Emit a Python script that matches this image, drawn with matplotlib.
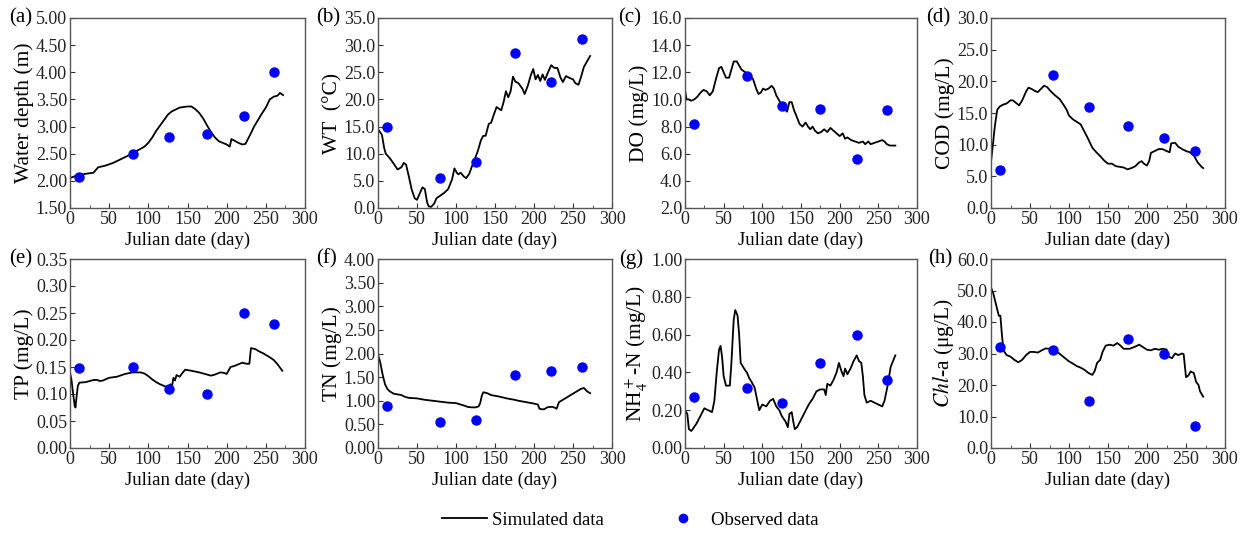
import matplotlib
matplotlib.use('Agg')
import matplotlib.pyplot as plt
from matplotlib.lines import Line2D
from matplotlib.ticker import MultipleLocator, FormatStrFormatter

plt.rcParams['font.family'] = ['Liberation Serif', 'DejaVu Serif']
plt.rcParams['mathtext.fontset'] = 'stix'
plt.rcParams['font.size'] = 13.5

# observation days (shared by all panels)
obs_day = [12, 80, 126, 175, 222, 261]

# (a) water depth
a_day = [0, 5, 10, 20, 30, 33, 36, 45, 55, 65, 75, 85, 95, 100, 105, 110, 115, 120, 125, 130,
         140, 150, 155, 160, 165, 170, 175, 180, 185, 190, 195, 200, 204, 206, 210, 215, 220,
         224, 230, 235, 240, 245, 250, 255, 260, 265, 268, 272]
a_sim = [2.05, 2.08, 2.10, 2.13, 2.15, 2.20, 2.25, 2.28, 2.33, 2.40, 2.47, 2.55, 2.63, 2.70,
         2.80, 2.92, 3.02, 3.12, 3.22, 3.28, 3.35, 3.37, 3.37, 3.32, 3.25, 3.15, 3.02, 2.90,
         2.80, 2.73, 2.70, 2.67, 2.63, 2.77, 2.74, 2.70, 2.67, 2.68, 2.85, 3.00, 3.12, 3.24,
         3.35, 3.50, 3.55, 3.57, 3.62, 3.58]
a_obs = [2.08, 2.50, 2.80, 2.87, 3.20, 4.00]

# (b) water temperature
b_day = [0, 5, 8, 10, 15, 20, 25, 30, 33, 36, 40, 43, 47, 50, 53, 57, 60, 63, 65, 68, 72, 75,
         80, 85, 90, 95, 98, 101, 103, 106, 110, 113, 117, 120, 124, 128, 132, 135, 138, 142,
         145, 148, 152, 155, 158, 161, 164, 167, 170, 173, 176, 180, 185, 188, 192, 196, 199,
         202, 205, 208, 211, 214, 218, 222, 226, 230, 234, 237, 241, 245, 250, 253, 257, 260,
         264, 268, 272]
b_sim = [14.5, 13.5, 11.0, 10.0, 9.2, 8.2, 7.1, 7.5, 8.3, 8.0, 5.5, 3.5, 1.8, 1.5, 2.5, 3.8,
         3.5, 1.0, 0.3, 0.2, 0.8, 1.8, 2.3, 2.8, 3.5, 5.3, 7.3, 6.5, 6.2, 6.5, 5.8, 5.5, 6.3,
         7.5, 9.0, 10.5, 12.5, 13.3, 13.3, 15.5, 15.7, 17.0, 18.6, 18.3, 18.0, 19.5, 21.5, 20.4,
         21.5, 24.2, 23.3, 23.0, 22.0, 21.0, 22.5, 24.5, 25.6, 23.7, 24.5, 23.4, 24.6, 23.6,
         25.0, 26.3, 25.8, 25.8, 24.0, 23.2, 24.3, 24.0, 23.7, 23.0, 22.7, 24.0, 26.0, 27.0, 28.0]
b_obs = [15.0, 5.6, 8.4, 28.5, 23.2, 31.2]

# (c) dissolved oxygen
c_day = [0, 2, 5, 8, 12, 16, 20, 24, 28, 32, 36, 40, 44, 47, 50, 53, 57, 60, 63, 67, 70, 73,
         78, 83, 88, 92, 95, 98, 101, 104, 108, 112, 115, 118, 121, 125, 128, 132, 135, 138,
         141, 144, 148, 152, 156, 159, 162, 165, 168, 172, 176, 180, 184, 188, 192, 196, 200,
         204, 207, 210, 215, 220, 225, 230, 233, 237, 240, 245, 250, 255, 258, 261, 265, 272]
c_sim = [10.7, 10.0, 10.0, 9.9, 10.0, 10.2, 10.5, 10.7, 10.6, 10.3, 10.6, 11.5, 12.3, 12.4,
         12.0, 11.6, 11.6, 12.2, 12.8, 12.8, 12.5, 12.2, 12.0, 11.8, 11.5, 10.8, 10.4, 10.5,
         10.8, 10.7, 10.8, 11.0, 10.8, 10.3, 10.0, 9.6, 9.3, 9.1, 9.8, 9.8, 9.2, 8.8, 8.2, 8.0,
         8.3, 8.0, 7.8, 8.0, 7.7, 7.5, 7.6, 7.8, 7.6, 7.9, 7.7, 7.5, 7.3, 7.5, 7.1, 7.2, 7.0,
         6.9, 6.8, 6.9, 6.7, 6.9, 6.7, 6.8, 6.9, 7.0, 6.9, 6.7, 6.6, 6.6]
c_obs = [8.2, 11.7, 9.5, 9.3, 5.6, 9.2]

# (d) COD
d_day = [0, 2, 5, 8, 11, 15, 20, 25, 28, 32, 36, 40, 45, 48, 52, 56, 60, 64, 68, 72, 76, 82,
         88, 93, 97, 100, 105, 110, 115, 120, 125, 130, 135, 140, 145, 150, 155, 160, 165, 170,
         175, 180, 185, 190, 193, 196, 200, 203, 205, 210, 215, 220, 225, 229, 231, 236, 240,
         245, 250, 255, 260, 265, 270, 272]
d_sim = [7.3, 9.5, 13.0, 15.5, 16.0, 16.3, 16.5, 17.0, 17.0, 16.6, 16.2, 17.0, 18.4, 19.0,
         18.8, 18.5, 18.3, 18.8, 19.3, 19.1, 18.5, 17.8, 17.2, 16.3, 15.5, 14.6, 14.0, 13.6,
         13.2, 12.0, 10.8, 9.5, 8.8, 8.2, 7.5, 7.0, 7.0, 6.6, 6.5, 6.4, 6.1, 6.3, 6.6, 7.2, 7.4,
         7.0, 6.7, 7.5, 8.7, 9.0, 9.3, 9.3, 9.0, 8.8, 10.2, 10.3, 9.7, 9.3, 9.0, 8.8, 8.3, 7.2,
         6.5, 6.3]
d_obs = [6.0, 21.0, 16.0, 13.0, 11.0, 9.0]

# (e) total phosphorus
e_day = [0, 2, 4, 6, 7, 8, 10, 12, 20, 25, 30, 35, 38, 42, 50, 60, 70, 80, 90, 95, 100, 105,
         110, 115, 120, 125, 128, 130, 132, 134, 136, 140, 143, 147, 155, 165, 175, 180, 185,
         192, 197, 200, 203, 205, 210, 215, 220, 225, 229, 231, 237, 240, 247, 255, 260, 265, 271]
e_sim = [0.140, 0.125, 0.100, 0.078, 0.075, 0.090, 0.115, 0.121, 0.122, 0.124, 0.126, 0.126,
         0.124, 0.125, 0.130, 0.132, 0.137, 0.140, 0.140, 0.138, 0.133, 0.127, 0.122, 0.118,
         0.115, 0.112, 0.118, 0.112, 0.130, 0.125, 0.135, 0.132, 0.138, 0.145, 0.143, 0.140,
         0.136, 0.134, 0.136, 0.140, 0.139, 0.137, 0.145, 0.150, 0.152, 0.155, 0.158, 0.156,
         0.156, 0.185, 0.183, 0.180, 0.175, 0.168, 0.163, 0.155, 0.143]
e_obs = [0.148, 0.150, 0.110, 0.100, 0.250, 0.230]

# (f) total nitrogen
f_day = [0, 3, 6, 9, 12, 15, 20, 30, 35, 40, 50, 60, 70, 80, 90, 100, 110, 115, 120, 125, 129,
         131, 133, 135, 140, 145, 155, 165, 175, 180, 190, 200, 205, 207, 210, 213, 217, 220,
         224, 227, 229, 232, 240, 250, 260, 264, 268, 272]
f_sim = [1.98, 1.80, 1.55, 1.35, 1.25, 1.20, 1.15, 1.12, 1.08, 1.06, 1.05, 1.02, 1.00, 0.98,
         0.96, 0.95, 0.90, 0.87, 0.86, 0.86, 0.88, 0.95, 1.10, 1.18, 1.16, 1.12, 1.09, 1.05,
         1.02, 1.00, 0.97, 0.94, 0.92, 0.83, 0.82, 0.82, 0.86, 0.87, 0.87, 0.85, 0.83, 0.97,
         1.05, 1.15, 1.25, 1.27, 1.20, 1.16]
f_obs = [0.88, 0.54, 0.60, 1.55, 1.62, 1.71]

# (g) ammonium
g_day = [0, 3, 5, 8, 10, 15, 20, 25, 30, 35, 38, 41, 44, 46, 48, 50, 53, 58, 60, 63, 65, 68,
         70, 72, 75, 78, 80, 83, 86, 90, 93, 96, 100, 105, 110, 114, 118, 122, 125, 130, 133,
         135, 138, 140, 142, 145, 150, 155, 160, 165, 170, 175, 180, 182, 184, 188, 192, 196,
         199, 202, 205, 207, 210, 214, 218, 222, 225, 228, 230, 232, 235, 240, 245, 250, 255,
         258, 262, 266, 272]
g_sim = [0.20, 0.18, 0.10, 0.09, 0.10, 0.13, 0.17, 0.21, 0.20, 0.19, 0.25, 0.40, 0.52, 0.54,
         0.48, 0.38, 0.33, 0.33, 0.45, 0.68, 0.73, 0.70, 0.60, 0.45, 0.43, 0.41, 0.40, 0.37,
         0.35, 0.32, 0.26, 0.20, 0.23, 0.22, 0.25, 0.26, 0.22, 0.20, 0.17, 0.14, 0.11, 0.18,
         0.19, 0.14, 0.10, 0.11, 0.15, 0.19, 0.23, 0.26, 0.30, 0.31, 0.31, 0.28, 0.34, 0.33,
         0.36, 0.40, 0.45, 0.41, 0.38, 0.42, 0.39, 0.42, 0.46, 0.49, 0.46, 0.45, 0.38, 0.28,
         0.24, 0.25, 0.24, 0.23, 0.22, 0.25, 0.33, 0.43, 0.49]
g_obs = [0.27, 0.32, 0.24, 0.45, 0.60, 0.36]

# (h) chlorophyll-a
h_day = [0, 3, 6, 10, 12, 14, 16, 20, 25, 30, 35, 40, 45, 50, 55, 60, 65, 70, 75, 80, 85, 90,
         95, 100, 105, 110, 115, 120, 125, 130, 133, 136, 140, 143, 147, 152, 157, 162, 166,
         170, 178, 185, 190, 195, 200, 205, 210, 215, 220, 225, 228, 232, 236, 240, 245, 247,
         250, 253, 256, 260, 263, 266, 268, 272]
h_sim = [51.0, 49.0, 46.0, 42.0, 42.0, 36.0, 31.0, 29.5, 29.0, 28.0, 27.2, 28.0, 29.5, 30.5,
         30.5, 30.3, 31.0, 31.6, 31.5, 31.2, 30.5, 29.5, 28.5, 27.5, 26.8, 26.0, 25.5, 24.8,
         23.8, 23.2, 24.5, 27.0, 28.0, 30.5, 32.5, 32.8, 32.5, 33.3, 32.5, 31.5, 31.5, 32.2,
         32.8, 32.0, 31.2, 31.0, 31.5, 31.2, 31.5, 31.3, 29.0, 28.5, 30.0, 29.5, 30.0, 29.8,
         22.5, 23.0, 24.3, 23.8, 21.0, 20.0, 18.0, 16.3]
h_obs = [32.0, 31.0, 15.0, 34.7, 30.0, 7.0]

panels = [
    ('(a)', 'Water depth (m)', a_day, a_sim, a_obs, (1.5, 5.0), 0.5, '%.2f'),
    ('(b)', 'WT  (°C)', b_day, b_sim, b_obs, (0, 35), 5, '%.1f'),
    ('(c)', 'DO (mg/L)', c_day, c_sim, c_obs, (2, 16), 2, '%.1f'),
    ('(d)', 'COD (mg/L)', d_day, d_sim, d_obs, (0, 30), 5, '%.1f'),
    ('(e)', 'TP (mg/L)', e_day, e_sim, e_obs, (0, 0.35), 0.05, '%.2f'),
    ('(f)', 'TN (mg/L)', f_day, f_sim, f_obs, (0, 4), 0.5, '%.2f'),
    ('(g)', r'NH$_4^+$-N (mg/L)', g_day, g_sim, g_obs, (0, 1), 0.2, '%.2f'),
    ('(h)', r'$\mathit{Chl}$-a (μg/L)', h_day, h_sim, h_obs, (0, 60), 10, '%.1f'),
]

W, H = 1253, 533
fig = plt.figure(figsize=(W / 100, H / 100), dpi=100)
fig.patch.set_facecolor('white')

# axes boxes in pixels: left, right / top, bottom
cols = [(70, 305), (378, 612), (685, 917), (991, 1225)]
rows = [(18, 208), (259, 448)]
tag_gap = [[38, 38, 44, 41], [38, 41, 42, 39]]

for i, (tag, ylab, day, sim, obs, ylim, step, fmt) in enumerate(panels):
    r, c = divmod(i, 4)
    l, rr = cols[c]
    t, b = rows[r]
    ax = fig.add_axes([l / W, 1 - b / H, (rr - l) / W, (b - t) / H])
    ax.plot(day, sim, color='black', lw=1.3)
    ax.plot(obs_day, obs, 'o', color='#0000ff', ms=6.5, mec='#0000ff')
    ax.set_xlim(0, 300)
    ax.set_ylim(*ylim)
    ax.xaxis.set_major_locator(MultipleLocator(50))
    ax.xaxis.set_minor_locator(MultipleLocator(25))
    ax.yaxis.set_major_locator(MultipleLocator(step))
    ax.yaxis.set_major_formatter(FormatStrFormatter(fmt))
    ax.tick_params(which='both', direction='in', top=False, right=False,
                   colors='#333333', labelcolor='#222222', labelsize=13)
    ax.tick_params(which='major', length=3.5, pad=2)
    ax.tick_params(which='minor', length=2)
    for s in ax.spines.values():
        s.set_color('#555555')
        s.set_linewidth(1.0)
    ax.set_xlabel('Julian date (day)', fontsize=13.5, labelpad=3)
    ax.set_ylabel(ylab, fontsize=15.5, labelpad=1)
    ax.annotate(tag, xy=(0, 1), xycoords='axes fraction',
                xytext=(-tag_gap[r][c] * 0.72, 0), textcoords='offset points',
                ha='right', va='center', fontsize=15)

handles = [Line2D([], [], color='black', lw=1.3),
           Line2D([], [], ls='none', marker='o', color='#0000ff', ms=6)]
fig.legend(handles, ['Simulated data', 'Observed data'], loc='center',
           bbox_to_anchor=(0.503, 13 / H), ncol=2, frameon=False, fontsize=13.5,
           columnspacing=3.0, handlelength=2.4, handletextpad=0.3)

fig.savefig('out.png', dpi=100)
